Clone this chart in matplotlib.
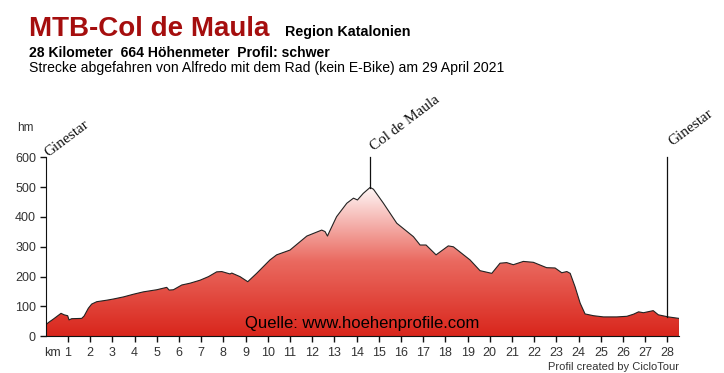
import numpy as np
import matplotlib
matplotlib.use("Agg")
from matplotlib import pyplot as plt
from matplotlib.colors import LinearSegmentedColormap

# profile (km, hm)
km = [0, 0.12, 0.35, 0.69, 0.83, 0.99, 1.05, 1.17, 1.62, 1.73, 1.92, 2.07, 2.3, 2.75,
      3.05, 3.5, 3.95, 4.4, 5.0, 5.45, 5.56, 5.75, 6.13, 6.5, 6.95, 7.33, 7.7, 7.93,
      8.3, 8.38, 8.75, 9.1, 9.5, 10.1, 10.4, 11.0, 11.76, 12.43, 12.58, 12.69, 12.78,
      13.1, 13.56, 13.86, 14.04, 14.3, 14.61, 14.76, 15.21, 15.81, 16.56, 16.86, 17.13,
      17.58, 18.13, 18.36, 19.11, 19.56, 20.09, 20.46, 20.76, 21.06, 21.51, 21.96,
      22.56, 22.94, 23.24, 23.47, 23.62, 23.84, 24.07, 24.29, 24.67, 25.12, 25.72,
      26.17, 26.47, 26.7, 26.92, 27.36, 27.59, 28.04, 28.52]
elev = [38, 46, 58, 77, 72, 69, 55, 59, 60, 68, 94, 108, 116, 121,
        125, 132, 141, 149, 156, 164, 155, 156, 172, 178, 188, 200, 216, 217,
        209, 212, 200, 183, 211, 256, 273, 289, 336, 356, 351, 336, 351,
        401, 446, 463, 457, 479, 499, 493, 446, 379, 334, 306, 306,
        273, 303, 300, 256, 220, 211, 245, 247, 240, 251, 248,
        230, 229, 213, 217, 211, 166, 111, 75, 69, 65, 65,
        67, 74, 82, 79, 86, 72, 65, 60]

# waypoints
wp_km = [0, 14.6, 28.0]
wp_names = ["Ginestar", "Col de Maula", "Ginestar"]
wp_offsets = [(3, 0), (4, 6), (5, 11)]  # label offset from line top, pixels

x_ticks = list(range(1, 29))
y_ticks = [0, 100, 200, 300, 400, 500, 600]

plt.rcParams['font.family'] = ['Liberation Sans', 'DejaVu Sans']

fig = plt.figure(figsize=(7.24, 3.73), dpi=100)
ax = fig.add_axes([45.7/724, 0.0984, 0.8747, 0.4799])
ax.set_xlim(0, max(km))
ax.set_ylim(0, 600)

# gradient fill clipped to profile
cmap = LinearSegmentedColormap.from_list("prof", ["#d9261c", "#ea6a60", "#fff8f8"])
poly = ax.fill_between(km, elev, 0, color="none", lw=0)
grad = np.linspace(0, 1, 256).reshape(-1, 1)
img = ax.imshow(grad, cmap=cmap, aspect="auto", origin="lower",
                extent=[0, max(km), 0, 500], zorder=1)
img.set_clip_path(poly.get_paths()[0], transform=ax.transData)
ax.plot(km, elev, color="#222222", lw=0.8, zorder=2)
ax.plot([max(km), max(km)], [0, elev[-1]], color="#222222", lw=0.8, zorder=2)

# waypoint lines and labels
for wk, name, off in zip(wp_km, wp_names, wp_offsets):
    base = np.interp(wk, km, elev)
    if wk > 0:
        ax.plot([wk, wk], [base, 600], color="#111111", lw=0.9, clip_on=False, zorder=3)
    ax.annotate(name, (wk, 600), xytext=off, textcoords="offset pixels",
                rotation=37, rotation_mode="anchor", ha="left", va="baseline",
                fontsize=11, family="Liberation Serif", color="#111111",
                annotation_clip=False)

# axes styling
for s in ["top", "right"]:
    ax.spines[s].set_visible(False)
ax.spines["left"].set_color("#111111")
ax.spines["bottom"].set_color("#111111")
ax.set_xticks(x_ticks)
ax.set_yticks(y_ticks)
ax.tick_params(axis="both", direction="out", length=4, width=1, colors="#111111",
               labelcolor="#333333", labelsize=9)
ax.tick_params(axis="x", pad=4)
ax.tick_params(axis="y", pad=3)
ax.annotate("km", (0, 0), xytext=(-1, -8), textcoords="offset points",
            fontsize=9, color="#333333", ha="left", va="top", annotation_clip=False)
fig.text(17/724, 1 - 131/373, "hm", fontsize=8.5, color="#333333", va="baseline")

# source text
ax.text(0.5, 0.045, "Quelle: www.hoehenprofile.com", transform=ax.transAxes,
        fontsize=12, color="black", ha="center", va="baseline", zorder=4)
fig.text(679/724, 1 - 370/373, "Profil created by CicloTour", fontsize=8,
         color="#333333", ha="right", va="baseline")

# titles
fig.text(29/724, 1 - 36/373, "MTB-Col de Maula", fontsize=20, fontweight="bold",
         color="#a50e0e", va="baseline")
fig.text(285/724, 1 - 36/373, "Region Katalonien", fontsize=10.3, fontweight="bold",
         color="black", va="baseline")
fig.text(29/724, 1 - 57/373, "28 Kilometer  664 Höhenmeter  Profil: schwer",
         fontsize=10.1, fontweight="bold", color="black", va="baseline")
fig.text(29/724, 1 - 72/373,
         "Strecke abgefahren von Alfredo mit dem Rad (kein E-Bike) am 29 April 2021",
         fontsize=10.1, color="black", va="baseline")

fig.savefig("out.png", dpi=100)
